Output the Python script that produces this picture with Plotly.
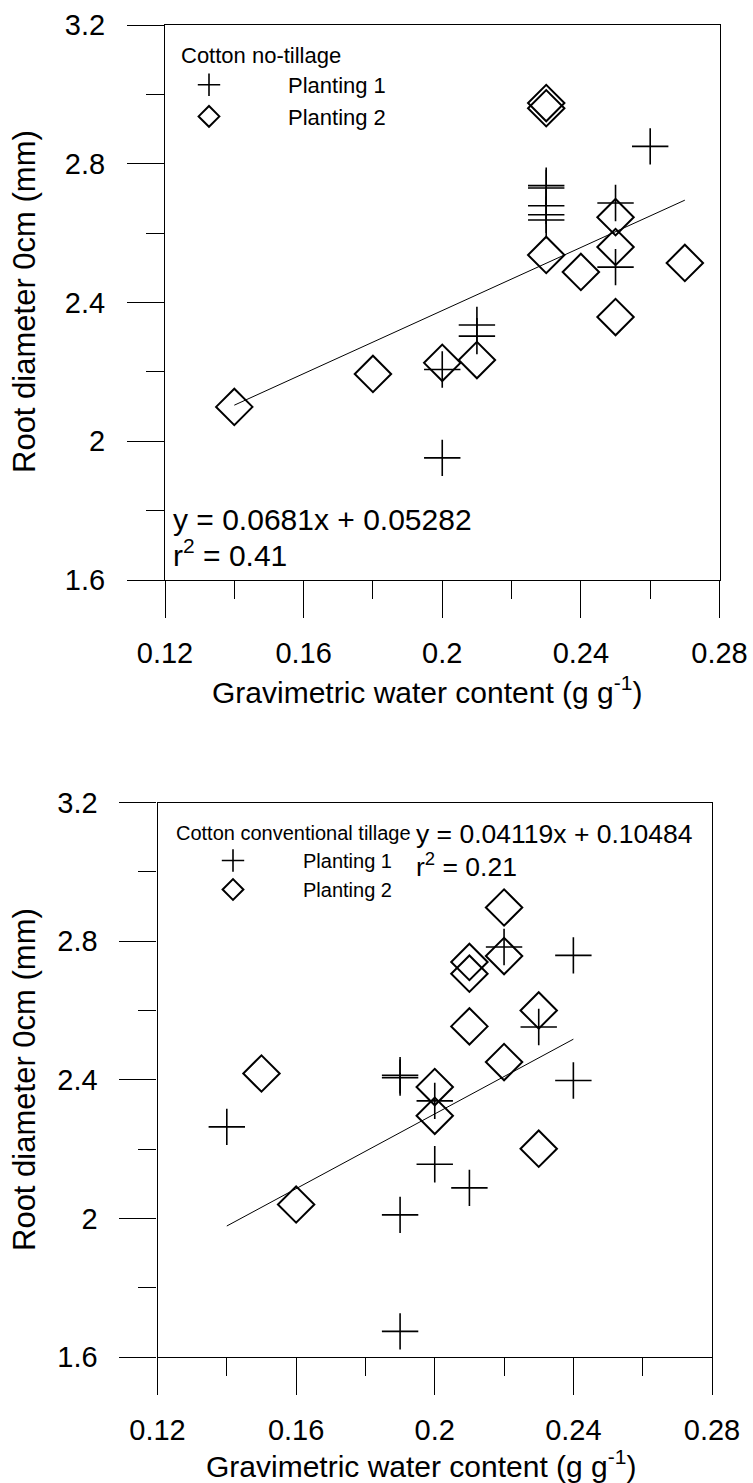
import plotly.graph_objects as go

W, H = 753, 1483

# ---------------- data ----------------
x_ticks = [0.12, 0.16, 0.2, 0.24, 0.28]
y_ticks = [1.6, 2.0, 2.4, 2.8, 3.2]
x_tick_labels = ["0.12", "0.16", "0.2", "0.24", "0.28"]
y_tick_labels = ["1.6", "2", "2.4", "2.8", "3.2"]

top_p1_x = [0.26, 0.23, 0.23, 0.23, 0.23, 0.23, 0.25, 0.25, 0.21, 0.21, 0.20, 0.20]
top_p1_y = [2.85, 2.737, 2.73, 2.679, 2.653, 2.638, 2.687, 2.502, 2.335, 2.303, 2.207, 1.952]
top_p2_x = [0.23, 0.23, 0.23, 0.24, 0.25, 0.25, 0.25, 0.27, 0.20, 0.21, 0.18, 0.14]
top_p2_y = [2.975, 2.96, 2.537, 2.488, 2.646, 2.560, 2.358, 2.514, 2.226, 2.234, 2.194, 2.099]
top_fit_x = [0.14, 0.27]
top_fit_y = [2.104, 2.695]

bot_p1_x = [0.22, 0.24, 0.23, 0.19, 0.19, 0.24, 0.20, 0.14, 0.20, 0.21, 0.19, 0.19]
bot_p1_y = [2.783, 2.759, 2.552, 2.413, 2.406, 2.398, 2.339, 2.264, 2.156, 2.088, 2.010, 1.674]
bot_p2_x = [0.22, 0.22, 0.21, 0.21, 0.23, 0.21, 0.22, 0.15, 0.20, 0.20, 0.23, 0.16]
bot_p2_y = [2.897, 2.757, 2.740, 2.706, 2.600, 2.554, 2.451, 2.418, 2.379, 2.296, 2.201, 2.040]
bot_fit_x = [0.14, 0.24]
bot_fit_y = [1.978, 2.517]

series_names = ["Planting 1", "Planting 2"]
panel_titles = ["Cotton no-tillage", "Cotton conventional tillage"]
equations = ["y = 0.0681x + 0.05282", "y = 0.04119x + 0.10484"]
r2_texts = ["r<sup>2</sup> = 0.41", "r<sup>2</sup> = 0.21"]
x_title = "Gravimetric water content (g g<sup>-1</sup>)"
y_title = "Root diameter 0cm (mm)"

FONT = "Arial, Liberation Sans, Helvetica, sans-serif"
INK = "black"


def px(x):
    return x / W


def py(y):
    return 1 - y / H


fig = go.Figure()


def add_panel(xa, ya, legend, p1x, p1y, p2x, p2y, fx, fy):
    fig.add_trace(go.Scatter(
        x=fx, y=fy, mode="lines", line=dict(color=INK, width=1),
        xaxis=xa, yaxis=ya, showlegend=False, hoverinfo="skip"))
    fig.add_trace(go.Scatter(
        x=p1x, y=p1y, mode="markers", name=series_names[0],
        marker=dict(symbol="cross-thin", size=26, color=INK,
                    line=dict(color=INK, width=1.6)),
        xaxis=xa, yaxis=ya, legend=legend))
    fig.add_trace(go.Scatter(
        x=p2x, y=p2y, mode="markers", name=series_names[1],
        marker=dict(symbol="diamond-open", size=28, color=INK,
                    line=dict(color=INK, width=2)),
        xaxis=xa, yaxis=ya, legend=legend))


add_panel("x", "y", "legend", top_p1_x, top_p1_y, top_p2_x, top_p2_y, top_fit_x, top_fit_y)
add_panel("x2", "y2", "legend2", bot_p1_x, bot_p1_y, bot_p2_x, bot_p2_y, bot_fit_x, bot_fit_y)


def xaxis_cfg(domain, anchor):
    return dict(
        domain=domain, anchor=anchor, range=[0.12, 0.28], automargin=False,
        tickmode="array", tickvals=x_ticks, ticktext=x_tick_labels,
        ticks="outside", ticklen=37, tickwidth=1.2, tickcolor=INK,
        minor=dict(tickmode="linear", tick0=0.12, dtick=0.02, ticks="outside",
                   ticklen=18, tickwidth=1.2, tickcolor=INK, showgrid=False),
        showline=True, linecolor=INK, linewidth=1.2, mirror=True,
        showgrid=False, zeroline=False, ticklabelstandoff=10,
        tickfont=dict(family=FONT, size=29, color=INK))


def yaxis_cfg(domain, anchor):
    return dict(
        domain=domain, anchor=anchor, range=[1.6, 3.2], automargin=False,
        tickmode="array", tickvals=y_ticks, ticktext=y_tick_labels,
        ticks="outside", ticklen=37, tickwidth=1.2, tickcolor=INK,
        minor=dict(tickmode="linear", tick0=1.6, dtick=0.2, ticks="outside",
                   ticklen=18, tickwidth=1.2, tickcolor=INK, showgrid=False),
        showline=True, linecolor=INK, linewidth=1.2, mirror=True,
        showgrid=False, zeroline=False, ticklabelstandoff=16,
        tickfont=dict(family=FONT, size=29, color=INK))


top_x = [px(165), px(719.5)]
bot_x = [px(157.5), px(712)]
top_y = [py(580), py(25)]
bot_y = [py(1357), py(802.5)]

annotations = []


def ann(text, x, y, size, xanchor="left", angle=0):
    annotations.append(dict(
        text=text, x=px(x), y=py(y), xref="paper", yref="paper",
        xanchor=xanchor, yanchor="middle", showarrow=False, textangle=angle,
        font=dict(family=FONT, size=size, color=INK)))


ann(panel_titles[0], 179, 56, 22)
ann(panel_titles[1], 174, 833, 20)
ann(equations[0], 171, 519, 30)
ann(r2_texts[0], 171, 553, 30)
ann(equations[1], 414, 834, 26.5)
ann(r2_texts[1], 414, 865, 26.5)
ann(x_title, 427, 690, 30, xanchor="center")
ann(x_title, 422, 1464, 30, xanchor="center")
ann(y_title, 24, 302, 31, xanchor="center", angle=-90)
ann(y_title, 24, 1080, 31, xanchor="center", angle=-90)

fig.update_layout(
    template="none",
    width=W, height=H, margin=dict(l=0, r=0, t=0, b=0, autoexpand=False),
    paper_bgcolor="white", plot_bgcolor="white",
    font=dict(family=FONT, color=INK),
    xaxis=xaxis_cfg(top_x, "y"), yaxis=yaxis_cfg(top_y, "x"),
    xaxis2=xaxis_cfg(bot_x, "y2"), yaxis2=yaxis_cfg(bot_y, "x2"),
    legend=dict(x=px(130), y=py(64), xanchor="left", yanchor="top",
                itemwidth=148, bgcolor="rgba(0,0,0,0)", borderwidth=0,
                font=dict(family=FONT, size=22, color=INK)),
    legend2=dict(x=px(163), y=py(841), xanchor="left", yanchor="top",
                 itemwidth=130, bgcolor="rgba(0,0,0,0)", borderwidth=0,
                 font=dict(family=FONT, size=20, color=INK)),
    annotations=annotations,
    showlegend=True,
)

fig.write_html("out.html")
